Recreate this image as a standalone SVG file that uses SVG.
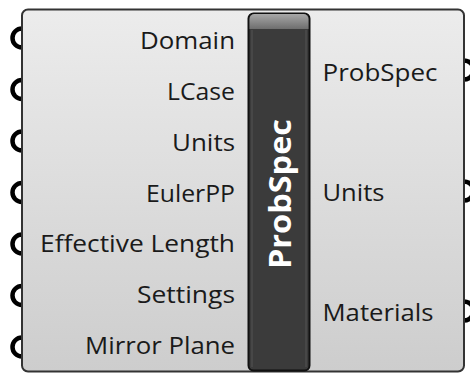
<svg xmlns="http://www.w3.org/2000/svg" width="470" height="375" viewBox="0 0 470 375">
<defs>
<linearGradient id="bodyGrad" x1="0" y1="0" x2="0" y2="1">
<stop offset="0" stop-color="#ececec"/>
<stop offset="1" stop-color="#cdcdcd"/>
</linearGradient>
<linearGradient id="capGrad" x1="0" y1="0" x2="0" y2="1">
<stop offset="0" stop-color="#a8a8a8"/>
<stop offset="1" stop-color="#6e6e6e"/>
</linearGradient>
<style>
.port{fill:none;stroke:#000;stroke-width:4.5}
.lbl{font-family:"Open Sans","Noto Sans",sans-serif;font-size:23px;fill:#1a1a1a}
.in{text-anchor:end}
.title{font-family:"Open Sans","Noto Sans",sans-serif;font-size:31px;font-weight:bold;fill:#ffffff;text-anchor:middle}
</style>
</defs>
<g id="connectors">
<path class="port" d="M22 28.5 A9.5 9.5 0 0 0 22 47.5"/>
<path class="port" d="M22 80 A9.5 9.5 0 0 0 22 99"/>
<path class="port" d="M22 131.5 A9.5 9.5 0 0 0 22 150.5"/>
<path class="port" d="M22 183 A9.5 9.5 0 0 0 22 202"/>
<path class="port" d="M22 234.5 A9.5 9.5 0 0 0 22 253.5"/>
<path class="port" d="M22 286 A9.5 9.5 0 0 0 22 305"/>
<path class="port" d="M22 337.5 A9.5 9.5 0 0 0 22 356.5"/>
<path class="port" d="M464 60.5 A9.5 9.5 0 0 1 464 79.5"/>
<path class="port" d="M464 181.5 A9.5 9.5 0 0 1 464 200.5"/>
<path class="port" d="M464 301.5 A9.5 9.5 0 0 1 464 320.5"/>
</g>
<g id="component">
<rect x="22" y="9.5" width="442" height="362" rx="6" fill="url(#bodyGrad)" stroke="#333" stroke-width="2"/>
<rect x="248.5" y="13.5" width="61" height="357" rx="5" fill="#3b3b3b" stroke="#111" stroke-width="2"/>
<path d="M249.5 29 V19 a5 5 0 0 1 5 -5 H303.5 a5 5 0 0 1 5 5 V29 Z" fill="url(#capGrad)"/>
<line x1="252" y1="30" x2="252" y2="367" stroke="#555" stroke-width="1"/>
<line x1="306" y1="30" x2="306" y2="367" stroke="#555" stroke-width="1"/>
<text class="title" transform="translate(291,194) rotate(-90)" textLength="150" lengthAdjust="spacingAndGlyphs">ProbSpec</text>
</g>
<g id="inputs">
<text class="lbl in" x="235" y="48.5" textLength="95" lengthAdjust="spacingAndGlyphs">Domain</text>
<text class="lbl in" x="235" y="100" textLength="68" lengthAdjust="spacingAndGlyphs">LCase</text>
<text class="lbl in" x="235" y="151" textLength="63" lengthAdjust="spacingAndGlyphs">Units</text>
<text class="lbl in" x="235" y="201.5" textLength="89" lengthAdjust="spacingAndGlyphs">EulerPP</text>
<text class="lbl in" x="235" y="252" textLength="195" lengthAdjust="spacingAndGlyphs">Effective Length</text>
<text class="lbl in" x="235" y="303" textLength="98" lengthAdjust="spacingAndGlyphs">Settings</text>
<text class="lbl in" x="235" y="354" textLength="150" lengthAdjust="spacingAndGlyphs">Mirror Plane</text>
</g>
<g id="outputs">
<text class="lbl" x="322.5" y="80.5" textLength="115" lengthAdjust="spacingAndGlyphs">ProbSpec</text>
<text class="lbl" x="322.5" y="200.5" textLength="62" lengthAdjust="spacingAndGlyphs">Units</text>
<text class="lbl" x="322.5" y="320.5" textLength="111" lengthAdjust="spacingAndGlyphs">Materials</text>
</g>
</svg>
